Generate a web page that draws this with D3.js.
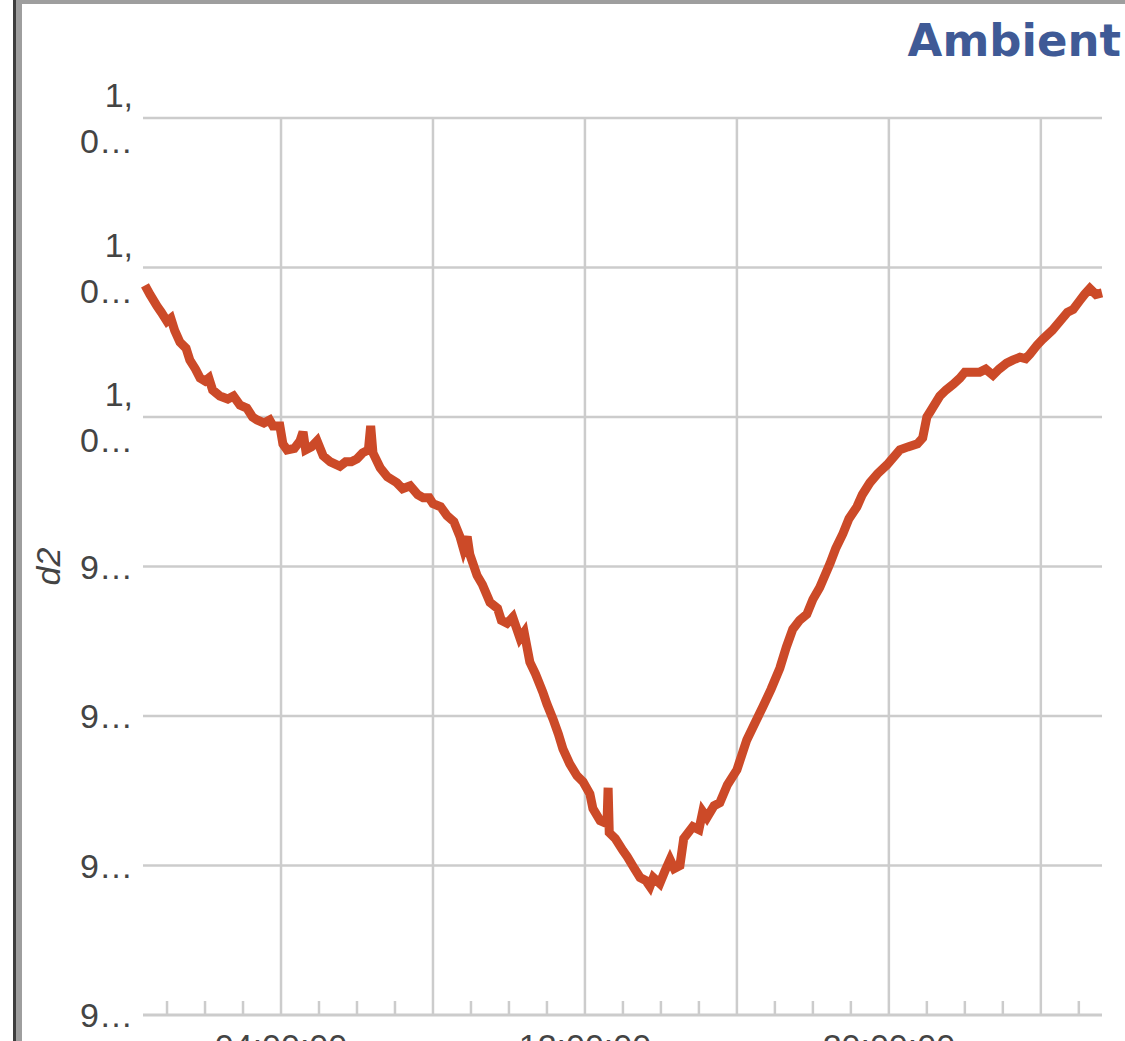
<!DOCTYPE html>
<html>
<head>
<meta charset="utf-8">
<script src="https://cdn.jsdelivr.net/npm/d3@7"></script>
<style>
  body { margin: 0; background: #fff; overflow: hidden; }
  svg { display: block; }
</style>
</head>
<body>
<script>
var width = 1125,
    height = 1041;

// Hours since midnight of the first day
var hours = [
  0.42, 0.55, 0.74, 0.85, 1.0, 1.1, 1.2, 1.34, 1.5, 1.6, 1.75, 1.87, 2.0, 2.1, 2.2, 2.39,
  2.6, 2.75, 2.92, 3.1, 3.25, 3.37, 3.55, 3.7, 3.79, 3.97, 4.05, 4.16, 4.35, 4.5, 4.58, 4.65,
  4.8, 4.95, 5.11, 5.3, 5.55, 5.7, 5.85, 6.0, 6.15, 6.3, 6.36, 6.42, 6.61, 6.8, 7.05, 7.2,
  7.4, 7.6, 7.74, 7.9, 8.0, 8.2, 8.37, 8.55, 8.71, 8.8, 8.9, 8.97, 9.16, 9.3, 9.5, 9.7,
  9.8, 9.95, 10.1, 10.29, 10.4, 10.55, 10.7, 10.89, 11.0, 11.16, 11.3, 11.42, 11.6, 11.79, 11.95, 12.13,
  12.21, 12.4, 12.58, 12.61, 12.64, 12.8, 13.0, 13.11, 13.3, 13.45, 13.6, 13.71, 13.8, 13.97, 14.1, 14.24,
  14.35, 14.5, 14.6, 14.84, 15.0, 15.1, 15.21, 15.4, 15.55, 15.75, 16.0, 16.26, 16.45, 16.68, 16.9, 17.13,
  17.3, 17.47, 17.65, 17.84, 18.0, 18.18, 18.45, 18.6, 18.79, 18.95, 19.16, 19.3, 19.5, 19.7, 19.95, 20.29,
  20.5, 20.75, 20.89, 21.0, 21.1, 21.34, 21.5, 21.7, 21.87, 22.0, 22.2, 22.39, 22.55, 22.74, 22.9, 23.1,
  23.26, 23.45, 23.6, 23.71, 23.9, 24.05, 24.3, 24.5, 24.7, 24.85, 25.03, 25.15, 25.29, 25.45, 25.61
];

// d2 readings
var d2 = [
  1004.4, 1004.1, 1003.7, 1003.5, 1003.2, 1003.3, 1002.9, 1002.5, 1002.3, 1001.9, 1001.6, 1001.3, 1001.2, 1001.3, 1000.9, 1000.7,
  1000.6, 1000.7, 1000.4, 1000.3, 1000.0, 999.9, 999.8, 999.9, 999.7, 999.7, 999.1, 998.9, 998.95, 999.2, 999.5, 998.9,
  999.0, 999.2, 998.7, 998.5, 998.35, 998.5, 998.5, 998.6, 998.8, 998.9, 999.7, 998.8, 998.3, 998.0, 997.8, 997.6,
  997.7, 997.4, 997.3, 997.3, 997.1, 997.0, 996.7, 996.5, 996.0, 995.6, 996.0, 995.4, 994.7, 994.4, 993.8, 993.6,
  993.2, 993.1, 993.3, 992.6, 992.8, 991.8, 991.4, 990.8, 990.4, 989.9, 989.4, 988.9, 988.4, 988.0, 987.8, 987.4,
  986.9, 986.5, 986.4, 987.6, 986.1, 985.9, 985.5, 985.3, 984.9, 984.6, 984.5, 984.3, 984.6, 984.4, 984.8, 985.2,
  984.9, 985.0, 985.9, 986.3, 986.2, 986.8, 986.6, 987.0, 987.1, 987.7, 988.2, 989.2, 989.7, 990.3, 990.9, 991.6,
  992.3, 992.9, 993.2, 993.4, 993.9, 994.3, 995.1, 995.6, 996.1, 996.6, 997.0, 997.4, 997.8, 998.1, 998.4, 998.9,
  999.0, 999.1, 999.3, 1000.0, 1000.2, 1000.7, 1000.9, 1001.1, 1001.3, 1001.5, 1001.5, 1001.5, 1001.6, 1001.4, 1001.6, 1001.8,
  1001.9, 1002.0, 1001.95, 1002.1, 1002.4, 1002.6, 1002.9, 1003.2, 1003.5, 1003.6, 1003.9, 1004.1, 1004.3, 1004.1, 1004.15
];

// Axis setup
var yTicks = [980, 985, 990, 995, 1000, 1005, 1010];
var xDomainHours = [0.42, 25.61];
var xLabelHours = [4, 12, 20];
var chartTitle = "Ambient";
var yTitle = "d2";

var day0 = new Date(2021, 0, 1);
var toDate = function(h) { return new Date(day0.getTime() + h * 3600000); };

var data = hours.map(function(h, i) { return { t: toDate(h), v: d2[i] }; });

var margin = { left: 145, right: 23, top: 118, bottom: 26 };

var x = d3.scaleTime()
    .domain(xDomainHours.map(toDate))
    .range([margin.left, width - margin.right]);

var y = d3.scaleLinear()
    .domain([980, 1010])
    .range([height - margin.bottom, margin.top]);

var svg = d3.select("body").append("svg")
    .attr("width", width)
    .attr("height", height);

var grey = "#cccccc",
    textColor = "#444444";

// Frame bits at the top and left edge
svg.append("rect").attr("x", 13).attr("y", 0).attr("width", width).attr("height", 4).attr("fill", "#9e9e9e");
svg.append("rect").attr("x", 16).attr("y", 0).attr("width", 6).attr("height", height).attr("fill", "#9e9e9e");
svg.append("rect").attr("x", 13).attr("y", 0).attr("width", 3).attr("height", height).attr("fill", "#3d3d3d");

// Horizontal grid
svg.append("g")
    .selectAll("line")
    .data(yTicks.slice(1))
    .join("line")
    .attr("x1", margin.left - 2)
    .attr("x2", width - margin.right)
    .attr("y1", function(d) { return y(d); })
    .attr("y2", function(d) { return y(d); })
    .attr("stroke", grey)
    .attr("stroke-width", 2.5);

// Vertical grid every 4 hours
var majorTimes = x.ticks(d3.timeHour.every(4));
svg.append("g")
    .selectAll("line")
    .data(majorTimes)
    .join("line")
    .attr("x1", function(d) { return x(d); })
    .attr("x2", function(d) { return x(d); })
    .attr("y1", margin.top)
    .attr("y2", y(980))
    .attr("stroke", grey)
    .attr("stroke-width", 2.5);

// Minor hourly ticks
var minorTimes = x.ticks(d3.timeHour.every(1)).filter(function(d) { return d.getHours() % 4 !== 0; });
svg.append("g")
    .selectAll("line")
    .data(minorTimes)
    .join("line")
    .attr("x1", function(d) { return x(d); })
    .attr("x2", function(d) { return x(d); })
    .attr("y1", y(980) - 14)
    .attr("y2", y(980))
    .attr("stroke", grey)
    .attr("stroke-width", 2.5);

// x axis baseline
svg.append("line")
    .attr("x1", margin.left - 2)
    .attr("x2", width - margin.right)
    .attr("y1", y(980))
    .attr("y2", y(980))
    .attr("stroke", grey)
    .attr("stroke-width", 3);

// x labels (run off the bottom of the page, as in the original)
var fmt = d3.timeFormat("%H:%M:%S");
svg.append("g")
    .selectAll("text")
    .data(xLabelHours.map(toDate))
    .join("text")
    .attr("x", function(d) { return x(d); })
    .attr("y", y(980) + 43)
    .attr("text-anchor", "middle")
    .style("font-family", "Liberation Sans, Arial, sans-serif")
    .style("font-size", "34px")
    .attr("fill", textColor)
    .text(function(d) { return fmt(d); });

// y labels get wrapped at the comma and cut with an ellipsis
var numFmt = d3.format(",");
var wrapLabel = function(v) {
    var s = numFmt(v);
    var parts = s.indexOf(",") >= 0 ? [s.slice(0, s.indexOf(",") + 1), s.slice(s.indexOf(",") + 1)] : [s];
    return parts.map(function(p) { return p.length > 2 ? p.charAt(0) + "\u2026" : p; });
};

var yLabels = svg.append("g")
    .selectAll("text")
    .data(yTicks)
    .join("text")
    .attr("text-anchor", "end")
    .style("font-family", "Liberation Sans, Arial, sans-serif")
    .style("font-size", "34px")
    .attr("fill", textColor);

yLabels.each(function(v) {
    var lines = wrapLabel(v);
    var lineH = 46;
    var first = y(v) + 12 - (lines.length - 1) * lineH / 2;
    d3.select(this).selectAll("tspan")
        .data(lines)
        .join("tspan")
        .attr("x", 133)
        .attr("y", function(d, i) { return first + i * lineH; })
        .text(function(d) { return d; });
});

// y title
svg.append("text")
    .attr("transform", "translate(60," + y(995) + ") rotate(-90)")
    .attr("text-anchor", "middle")
    .style("font-family", "Liberation Sans, Arial, sans-serif")
    .style("font-size", "34px")
    .style("font-style", "italic")
    .attr("fill", textColor)
    .text(yTitle);

// Title
svg.append("text")
    .attr("x", 1121)
    .attr("y", 56)
    .attr("text-anchor", "end")
    .style("font-family", "DejaVu Sans, Verdana, sans-serif")
    .style("font-size", "45px")
    .style("font-weight", "bold")
    .attr("fill", "#3f5a96")
    .text(chartTitle);

// The series line, thick like the noisy original
var line = d3.line()
    .x(function(d) { return x(d.t); })
    .y(function(d) { return y(d.v); });

svg.append("path")
    .datum(data)
    .attr("d", line)
    .attr("fill", "none")
    .attr("stroke", "#cc4a28")
    .attr("stroke-width", 9)
    .attr("stroke-linejoin", "miter");
</script>
</body>
</html>
